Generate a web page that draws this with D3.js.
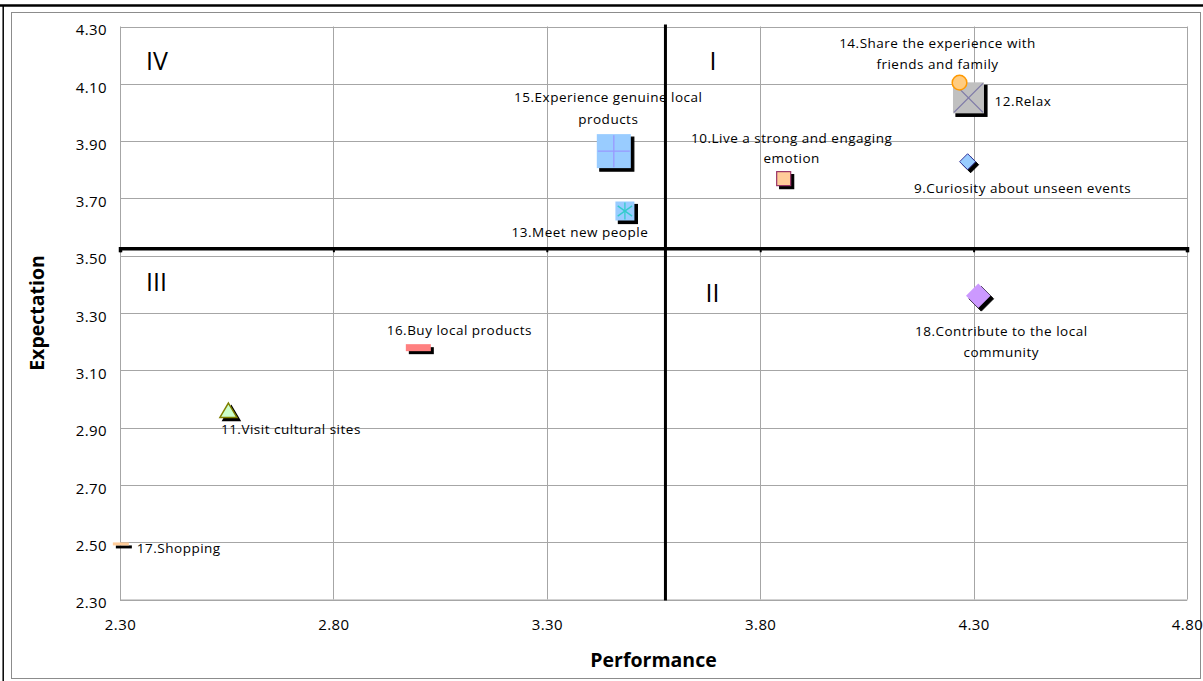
<!DOCTYPE html>
<html><head><meta charset="utf-8">
<script src="https://cdn.jsdelivr.net/npm/d3@7/dist/d3.min.js"></script>
<style>body{margin:0;background:#fff}svg{display:block}text{font-family:"Open Sans",sans-serif}</style>
</head><body><svg id="c" width="1203" height="681"></svg>
<script>
// ---- data ----
const names = ["9.Curiosity about unseen events","10.Live a strong and engaging|emotion","11.Visit cultural sites","12.Relax","13.Meet new people","14.Share the experience with|friends and family","15.Experience genuine local|products","16.Buy local products","17.Shopping","18.Contribute to the local|community"];
const performance = [4.286, 3.855, 2.554, 4.288, 3.483, 4.267, 3.457, 2.999, 2.302, 4.311];
const expectation = [3.828, 3.769, 2.958, 4.051, 3.656, 4.104, 3.865, 3.179, 2.494, 3.360];
const meanPerformance = 3.578;
const meanExpectation = 3.526;
const xTicks = [2.30, 2.80, 3.30, 3.80, 4.30, 4.80];
const yTicks = [2.30, 2.50, 2.70, 2.90, 3.10, 3.30, 3.50, 3.70, 3.90, 4.10, 4.30];
const quadrantNames = ["I", "II", "III", "IV"];
const xTitle = "Performance", yTitle = "Expectation";

// ---- styles / layout (not data) ----
const markers = [
  {shape:"diamond", s:8, fill:"#99CCFF", stroke:"#333399"},
  {shape:"square", s:14, fill:"#FFCC99", stroke:"#993366"},
  {shape:"triangle", s:17, fill:"#CCFFCC", stroke:"#808000"},
  {shape:"square", s:31, fill:"#C0C0C0", stroke:"none", inner:"x", innerColor:"#7E7AA8"},
  {shape:"square", s:19, fill:"#99CCFF", stroke:"none", inner:"star", innerColor:"#33CCCC"},
  {shape:"circle", s:7.3, fill:"#FFCC80", stroke:"#FF9900", noShadow:true},
  {shape:"square", s:34, fill:"#99CCFF", stroke:"none", inner:"plus", innerColor:"#9999FF"},
  {shape:"rect", w:25, h:7, fill:"#FF8080"},
  {shape:"rect", w:16, h:3, fill:"#FFCC99"},
  {shape:"diamond", s:12.3, fill:"#CC99FF", stroke:"none"}
];
const labelLayout = [
  {dx:55, dy:[31], anchor:"middle"},
  {dx:8, dy:[-36,-16], anchor:"middle"},
  {dx:-7.5, dy:[23], anchor:"start"},
  {dx:26, dy:[8], anchor:"start"},
  {dx:-45, dy:[26], anchor:"middle"},
  {dx:-22, dy:[-35,-14], anchor:"middle"},
  {dx:-5.5, dy:[-49,-27], anchor:"middle"},
  {dx:41, dy:[-13], anchor:"middle"},
  {dx:16, dy:[9], anchor:"start"},
  {dx:23, dy:[40,61], anchor:"middle"}
];

const svg = d3.select("#c");
const W = 1203, H = 681;
const x = d3.scaleLinear().domain([2.3, 4.8]).range([120, 1187]);
const y = d3.scaleLinear().domain([2.3, 4.3]).range([599.5, 26.5]);

// page decorations
svg.append("line").attr("x1",0).attr("x2",W).attr("y1",5.5).attr("y2",5.5).attr("stroke","#000").attr("stroke-width",2.5);
svg.append("line").attr("x1",3.2).attr("x2",3.2).attr("y1",5).attr("y2",H).attr("stroke","#000").attr("stroke-width",1.5);
svg.append("rect").attr("x",11.5).attr("y",12.5).attr("width",1189).attr("height",666).attr("fill","none").attr("stroke","#8c8c8c").attr("stroke-width",1);

// gridlines
const g = svg.append("g");
g.selectAll(".vg").data(xTicks).join("line")
  .attr("x1",d=>Math.round(x(d))+0.5).attr("x2",d=>Math.round(x(d))+0.5)
  .attr("y1",y(4.3)).attr("y2",y(2.3)).attr("stroke","#A6A6A6").attr("stroke-width",1);
g.selectAll(".hg").data(yTicks).join("line")
  .attr("x1",x(2.3)).attr("x2",x(4.8))
  .attr("y1",d=>Math.round(y(d))+0.5).attr("y2",d=>Math.round(y(d))+0.5).attr("stroke","#A6A6A6").attr("stroke-width",1);

// axes (labels only)
const xa = svg.append("g").attr("transform",`translate(0,${y(2.3)})`)
  .call(d3.axisBottom(x).tickValues(xTicks).tickSize(0).tickPadding(20).tickFormat(d3.format(".2f")));
const ya = svg.append("g").attr("transform",`translate(${x(2.3)},0)`)
  .call(d3.axisLeft(y).tickValues(yTicks).tickSize(0).tickPadding(13).tickFormat(d3.format(".2f")));
[xa, ya].forEach(a => {
  a.select(".domain").attr("stroke","#A6A6A6");
  a.selectAll("text").attr("font-family","'Open Sans',sans-serif").attr("font-size",15).attr("letter-spacing","0.4px").attr("fill","#000");
});
ya.selectAll("text").attr("dy","0.55em");

// quadrant dividing lines
const qh = svg.append("g").attr("transform",`translate(0,${y(meanExpectation)})`)
  .call(d3.axisBottom(x).tickValues(xTicks).tickSize(4).tickFormat(""));
qh.select(".domain").attr("stroke","#000").attr("stroke-width",3.5);
qh.selectAll(".tick line").attr("stroke","#000").attr("stroke-width",2);
svg.append("line").attr("x1",x(meanPerformance)).attr("x2",x(meanPerformance))
  .attr("y1",y(4.3)-2).attr("y2",y(2.3)+1).attr("stroke","#000").attr("stroke-width",3);

// quadrant labels
const qx = [x(meanPerformance)+44, x(meanPerformance)+40, x(2.3)+26, x(2.3)+26];
const qy = [y(4.3)+43, y(meanExpectation)+54, y(meanExpectation)+43, y(4.3)+43];
svg.selectAll(".q").data(quadrantNames).join("text")
  .attr("x",(d,i)=>qx[i]).attr("y",(d,i)=>qy[i]).attr("font-size",25).attr("fill","#000").text(d=>d);

// markers
function drawMarker(sel, m, cx, cy, fill, stroke) {
  if (m.shape === "square") {
    sel.append("rect").attr("x",cx-m.s/2).attr("y",cy-m.s/2).attr("width",m.s).attr("height",m.s)
      .attr("fill",fill).attr("stroke",stroke).attr("stroke-width",1.2);
  } else if (m.shape === "diamond") {
    sel.append("path").attr("d",`M${cx},${cy-m.s}L${cx+m.s},${cy}L${cx},${cy+m.s}L${cx-m.s},${cy}Z`)
      .attr("fill",fill).attr("stroke",stroke).attr("stroke-width",1);
  } else if (m.shape === "triangle") {
    const h = m.s*0.85;
    sel.append("path").attr("d",`M${cx},${cy-h*0.55}L${cx+m.s/2},${cy+h*0.45}L${cx-m.s/2},${cy+h*0.45}Z`)
      .attr("fill",fill).attr("stroke",stroke).attr("stroke-width",1.5);
  } else if (m.shape === "circle") {
    sel.append("circle").attr("cx",cx).attr("cy",cy).attr("r",m.s).attr("fill",fill).attr("stroke",stroke).attr("stroke-width",1.5);
  } else if (m.shape === "rect") {
    sel.append("rect").attr("x",cx-m.w/2).attr("y",cy-m.h/2).attr("width",m.w).attr("height",m.h).attr("fill",fill);
  }
}
const mg = svg.append("g");
const order = [0,1,2,3,4,6,7,8,9,5];
order.forEach(i => {
  const m = markers[i];
  const cx = x(performance[i]), cy = y(expectation[i]);
  const grp = mg.append("g");
  if (!m.noShadow) drawMarker(grp, m, cx+3, cy+3, "#000", "#000");
  drawMarker(grp, m, cx, cy, m.fill, m.stroke || "none");
  if (m.inner) {
    const r = m.s/2 - 1;
    let segs = [];
    if (m.inner === "plus") segs = [[-r,0,r,0],[0,-r,0,r]];
    if (m.inner === "x") segs = [[-r,-r,r,r],[-r,r,r,-r]];
    if (m.inner === "star") segs = [[0,-r,0,r],[-r*0.85,-r*0.6,r*0.85,r*0.6],[-r*0.85,r*0.6,r*0.85,-r*0.6]];
    segs.forEach(s => grp.append("line").attr("x1",cx+s[0]).attr("y1",cy+s[1]).attr("x2",cx+s[2]).attr("y2",cy+s[3])
      .attr("stroke",m.innerColor).attr("stroke-width",1.3));
  }
});

// data labels
const lg = svg.append("g");
names.forEach((n, i) => {
  const L = labelLayout[i];
  const cx = x(performance[i]), cy = y(expectation[i]);
  n.split("|").forEach((line, k) => {
    lg.append("text").attr("x",cx+L.dx).attr("y",cy+L.dy[k]).attr("text-anchor",L.anchor)
      .attr("font-size",13.5).attr("letter-spacing","0.5px").attr("fill","#000").text(line);
  });
});

// axis titles
svg.append("text").attr("x",(x(2.3)+x(4.8))/2).attr("y",667).attr("text-anchor","middle")
  .attr("font-size",19.5).attr("font-weight","bold").text(xTitle);
svg.append("text").attr("transform",`translate(44,${(y(2.3)+y(4.3))/2}) rotate(-90)`).attr("text-anchor","middle")
  .attr("font-size",19.5).attr("font-weight","bold").text(yTitle);
</script></body></html>
